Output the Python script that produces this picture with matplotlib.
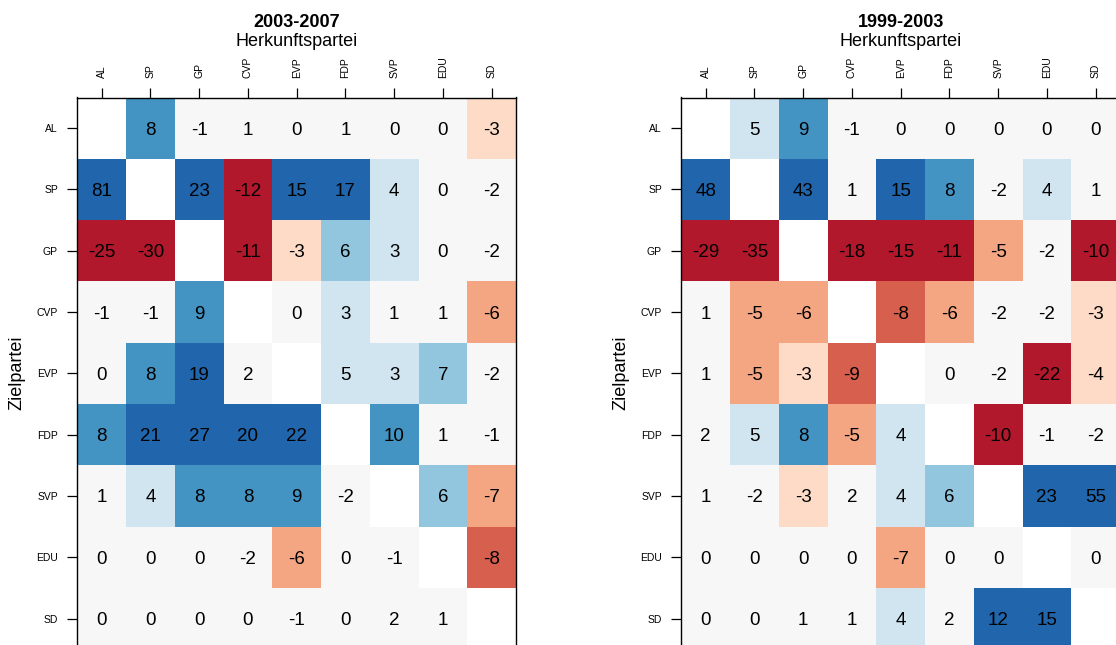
import numpy as np
import matplotlib
matplotlib.use("Agg")
import matplotlib.pyplot as plt
from matplotlib.colors import ListedColormap, BoundaryNorm

plt.rcParams['font.family'] = ['Liberation Sans', 'DejaVu Sans']

parties = ["AL", "SP", "GP", "CVP", "EVP", "FDP", "SVP", "EDU", "SD"]
nan = np.nan

# rows = Zielpartei, columns = Herkunftspartei
flows_2003_2007 = [
    [nan, 8, -1, 1, 0, 1, 0, 0, -3],
    [81, nan, 23, -12, 15, 17, 4, 0, -2],
    [-25, -30, nan, -11, -3, 6, 3, 0, -2],
    [-1, -1, 9, nan, 0, 3, 1, 1, -6],
    [0, 8, 19, 2, nan, 5, 3, 7, -2],
    [8, 21, 27, 20, 22, nan, 10, 1, -1],
    [1, 4, 8, 8, 9, -2, nan, 6, -7],
    [0, 0, 0, -2, -6, 0, -1, nan, -8],
    [0, 0, 0, 0, -1, 0, 2, 1, nan],
]
flows_1999_2003 = [
    [nan, 5, 9, -1, 0, 0, 0, 0, 0],
    [48, nan, 43, 1, 15, 8, -2, 4, 1],
    [-29, -35, nan, -18, -15, -11, -5, -2, -10],
    [1, -5, -6, nan, -8, -6, -2, -2, -3],
    [1, -5, -3, -9, nan, 0, -2, -22, -4],
    [2, 5, 8, -5, 4, nan, -10, -1, -2],
    [1, -2, -3, 2, 4, 6, nan, 23, 55],
    [0, 0, 0, 0, -7, 0, 0, nan, 0],
    [0, 0, 1, 1, 4, 2, 12, 15, nan],
]
titles = ["2003-2007", "1999-2003"]

colors = ["#b2182b", "#d6604d", "#f4a582", "#fddbc7", "#f7f7f7",
          "#d1e5f0", "#92c5de", "#4393c3", "#2166ac"]
bounds = [-1000, -9.5, -7.5, -4.5, -2.5, 2.5, 5.5, 7.5, 10.5, 1000]
cmap = ListedColormap(colors)
cmap.set_bad("white")
norm = BoundaryNorm(bounds, cmap.N)

W, H = 1116, 645
fig = plt.figure(figsize=(W / 100, H / 100), dpi=100)

ax_w = 438.7
cell_h = 61.3
top_px = 97.5
ax_h = cell_h * 9
lefts = [77.3, 681.3]

for data, title, lpx in zip([flows_2003_2007, flows_1999_2003], titles, lefts):
    ax = fig.add_axes([lpx / W, 1 - (top_px + ax_h) / H, ax_w / W, ax_h / H])
    arr = np.ma.masked_invalid(np.array(data, dtype=float))
    n = len(parties)
    edges = np.arange(n + 1) - 0.5
    ax.pcolormesh(edges, edges, arr, cmap=cmap, norm=norm, shading="flat")
    ax.set_xlim(-0.5, n - 0.5)
    ax.set_ylim(n - 0.5, -0.5)
    for i in range(n):
        for j in range(n):
            v = data[i][j]
            if not np.isnan(v):
                ax.text(j, i, f"{int(v)}", ha="center", va="center_baseline",
                        fontsize=13.5, color="black")
    ax.xaxis.tick_top()
    ax.set_xticks(range(n))
    ax.set_xticklabels(parties, rotation=90, fontsize=7.5)
    ax.set_yticks(range(n))
    ax.set_yticklabels(parties, fontsize=7.5)
    ax.tick_params(axis="both", length=7.2, width=0.9, pad=6.8, color="black")
    for s in ax.spines.values():
        s.set_linewidth(1.0)
        s.set_color("black")
    cx = (lpx + ax_w / 2) / W
    fig.text(cx, 1 - 27 / H, title, ha="center", va="baseline",
             fontsize=13, fontweight="bold")
    fig.text(cx, 1 - 46 / H, "Herkunftspartei", ha="center", va="baseline",
             fontsize=13)
    fig.text((lpx - 60) / W, 1 - (top_px + ax_h / 2 - 1) / H, "Zielpartei",
             rotation=90, ha="center", va="center", fontsize=13)

fig.savefig("out.png", dpi=100)
